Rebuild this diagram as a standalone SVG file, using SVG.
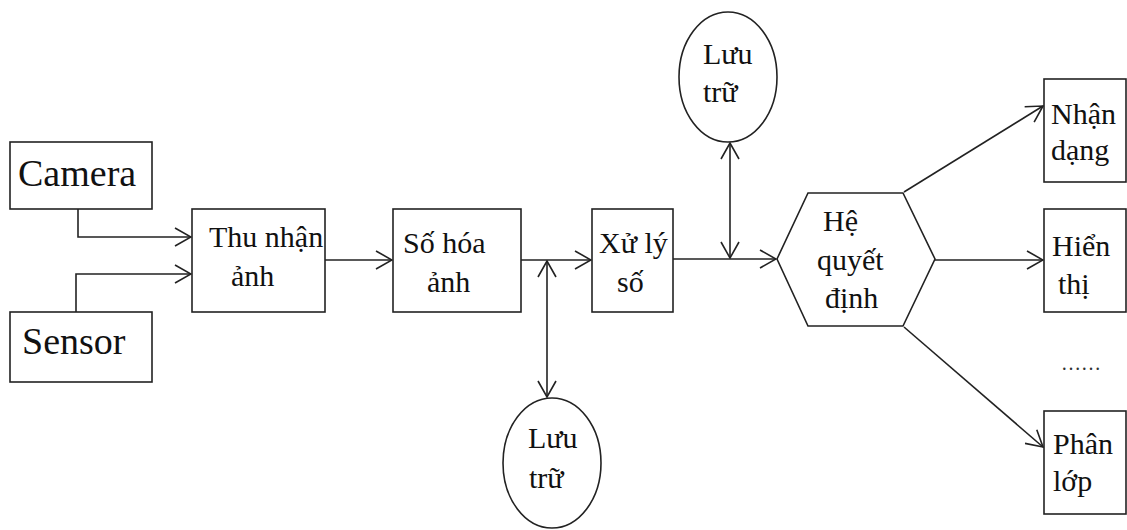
<svg xmlns="http://www.w3.org/2000/svg" width="1127" height="530" viewBox="0 0 1127 530">
  <style>
    .box { fill: #fff; stroke: #222; stroke-width: 1.6; }
    .line { fill: none; stroke: #222; stroke-width: 1.6; }
    text { font-family: 'Liberation Serif', 'DejaVu Serif', serif; font-size: 30px; fill: #111; }
    .big { font-size: 38px; }
    .dots { font-size: 20px; fill: #333; }
  </style>
  <defs>
    <marker id="arr" viewBox="0 0 18 20" refX="17" refY="10" markerWidth="18" markerHeight="20" markerUnits="userSpaceOnUse" orient="auto-start-reverse">
      <path d="M1,1 L17,10 L1,19" fill="none" stroke="#222" stroke-width="1.6"/>
    </marker>
  </defs>

  <!-- connectors -->
  <g id="connectors">
    <path class="line" d="M78,209 V237 H191" marker-end="url(#arr)"/>
    <path class="line" d="M76,312 V274 H191" marker-end="url(#arr)"/>
    <path class="line" d="M325,260 H392" marker-end="url(#arr)"/>
    <path class="line" d="M521,260 H591" marker-end="url(#arr)"/>
    <path class="line" d="M547,261 V397" marker-start="url(#arr)" marker-end="url(#arr)"/>
    <path class="line" d="M673,259 H776" marker-end="url(#arr)"/>
    <path class="line" d="M730,143 V258" marker-start="url(#arr)" marker-end="url(#arr)"/>
    <path class="line" d="M904,192 L1043,106" marker-end="url(#arr)"/>
    <path class="line" d="M935,260 H1043" marker-end="url(#arr)"/>
    <path class="line" d="M904,327 L1043,447" marker-end="url(#arr)"/>
  </g>

  <g id="camera">
    <rect class="box" x="10" y="142" width="142" height="67"/>
    <text class="big" x="18" y="186">Camera</text>
  </g>

  <g id="sensor">
    <rect class="box" x="10" y="312" width="142" height="70"/>
    <text class="big" x="22" y="354">Sensor</text>
  </g>

  <g id="thu-nhan-anh">
    <rect class="box" x="192" y="209" width="133" height="103"/>
    <text x="209" y="247">Thu nhận</text>
    <text x="231" y="286">ảnh</text>
  </g>

  <g id="so-hoa-anh">
    <rect class="box" x="393" y="209" width="128" height="103"/>
    <text x="403" y="253">Số hóa</text>
    <text x="427" y="292">ảnh</text>
  </g>

  <g id="xu-ly-so">
    <rect class="box" x="592" y="209" width="81" height="103"/>
    <text x="599" y="253">Xử lý</text>
    <text x="617" y="292">số</text>
  </g>

  <g id="luu-tru-top">
    <ellipse class="box" cx="728" cy="77" rx="49" ry="65"/>
    <text x="703" y="64">Lưu</text>
    <text x="703" y="102">trữ</text>
  </g>

  <g id="luu-tru-bottom">
    <ellipse class="box" cx="552" cy="463" rx="49" ry="65"/>
    <text x="528" y="448">Lưu</text>
    <text x="529" y="488">trữ</text>
  </g>

  <g id="he-quyet-dinh">
    <polygon class="box" points="777,259 808,193 903,193 935,259 903,326 808,326"/>
    <text x="823" y="231">Hệ</text>
    <text x="817" y="270">quyết</text>
    <text x="825" y="308">định</text>
  </g>

  <g id="nhan-dang">
    <rect class="box" x="1044" y="79" width="82" height="103"/>
    <text x="1051" y="124">Nhận</text>
    <text x="1051" y="160">dạng</text>
  </g>

  <g id="hien-thi">
    <rect class="box" x="1044" y="209" width="82" height="103"/>
    <text x="1052" y="256">Hiển</text>
    <text x="1058" y="294">thị</text>
  </g>

  <text class="dots" x="1061" y="370">……</text>

  <g id="phan-lop">
    <rect class="box" x="1044" y="411" width="82" height="103"/>
    <text x="1053" y="454">Phân</text>
    <text x="1053" y="491">lớp</text>
  </g>
</svg>
